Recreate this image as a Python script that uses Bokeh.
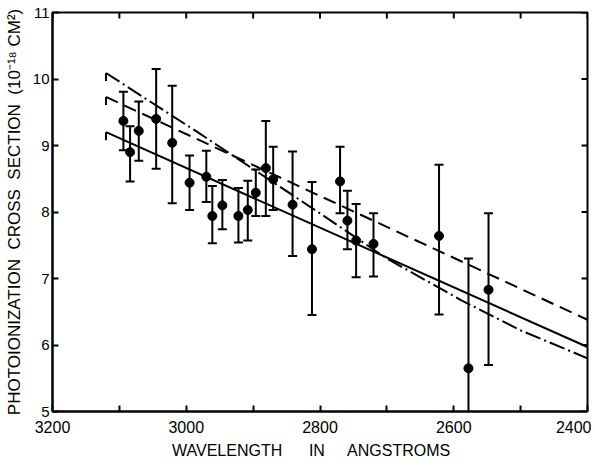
from bokeh.plotting import figure
from bokeh.models import Range1d, FixedTicker, ColumnDataSource
from bokeh.embed import file_html
from bokeh.resources import INLINE

# ---- data ----
wavelength = [3094, 3084, 3071, 3045, 3021, 2995, 2970, 2961, 2946, 2922, 2908, 2896,
              2881, 2870, 2841, 2812, 2770, 2759, 2746, 2720, 2622, 2578, 2548]
sigma = [9.37, 8.90, 9.22, 9.40, 9.04, 8.44, 8.53, 7.94, 8.10, 7.94, 8.03, 8.29,
         8.66, 8.49, 8.11, 7.44, 8.46, 7.87, 7.57, 7.52, 7.64, 5.65, 6.83]
sigma_upper = [9.81, 9.29, 9.66, 10.15, 9.90, 8.85, 8.92, 8.39, 8.48, 8.36, 8.47, 8.64,
               9.37, 8.98, 8.91, 8.45, 8.98, 8.32, 8.12, 7.98, 8.71, 7.30, 7.98]
sigma_lower = [8.93, 8.46, 8.77, 8.65, 8.13, 8.03, 8.15, 7.53, 7.74, 7.54, 7.57, 7.94,
               7.94, 8.03, 7.34, 6.45, 7.98, 7.44, 7.02, 7.03, 6.46, 4.00, 5.70]

solid_wl = [3120, 2400]
solid_val = [9.20, 5.97]
dashed_wl = [3120, 2400]
dashed_val = [9.73, 6.38]
dashdot_wl = [3120, 2983, 2800, 2700, 2590, 2500, 2400]
dashdot_val = [10.09, 9.20, 7.98, 7.30, 6.68, 6.22, 5.80]

x_major = [3200, 3000, 2800, 2600, 2400]
x_minor = [3100, 2900, 2700, 2500]
y_major = [5, 6, 7, 8, 9, 10, 11]

FONT = "Liberation Sans"
NB = "\u00a0"
X0, X1, Y0, Y1 = 3200, 2400, 5, 11
FRAME_W, FRAME_H, TICK = 535, 399, 6

p = figure(width=591, height=466, x_range=Range1d(X0, X1), y_range=Range1d(Y0, Y1),
           output_backend="svg", toolbar_location=None,
           min_border_left=52, min_border_right=4, min_border_top=12, min_border_bottom=55)
p.grid.visible = False
p.outline_line_color = "black"
p.outline_line_width = 2
p.background_fill_color = "white"
p.border_fill_color = "white"


def style(ax):
    ax.axis_line_color = "black"
    ax.axis_line_width = 2
    ax.major_tick_in = TICK
    ax.major_tick_out = 0
    ax.minor_tick_in = TICK
    ax.minor_tick_out = 0
    ax.major_tick_line_width = 2
    ax.minor_tick_line_width = 2
    ax.major_tick_line_color = "black"
    ax.minor_tick_line_color = "black"
    ax.major_label_text_font = FONT
    ax.major_label_text_color = "black"
    ax.axis_label_text_font = FONT
    ax.axis_label_text_font_style = "normal"
    ax.axis_label_text_color = "black"


xa = p.xaxis[0]
xa.ticker = FixedTicker(ticks=x_major, minor_ticks=x_minor)
style(xa)
xa.major_label_text_font_size = "16px"
xa.major_label_standoff = 9
xa.axis_label = "WAVELENGTH" + NB * 6 + "IN" + NB * 5 + "ANGSTROMS" + NB * 4
xa.axis_label_text_font_size = "16px"
xa.axis_label_standoff = 6

ya = p.yaxis[0]
ya.ticker = FixedTicker(ticks=y_major, minor_ticks=[])
style(ya)
ya.major_label_text_font_size = "15px"
ya.major_label_standoff = 3
ya.axis_label = ("PHOTOIONIZATION" + NB * 2 + "CROSS" + NB * 2 + "SECTION" + NB * 2 +
                 "(10\u207b\u00b9\u2078" + NB + "CM\u00b2)")
ya.axis_label_text_font_size = "17px"
ya.axis_label_standoff = 6

# inward ticks on the top and right edges of the frame (no labels there)
tick_dy = (Y1 - Y0) * TICK / FRAME_H
tick_dx = (X0 - X1) * TICK / FRAME_W
top_x = sorted(x_major + x_minor)
p.segment(x0=top_x, y0=[Y1] * len(top_x), x1=top_x, y1=[Y1 - tick_dy] * len(top_x),
          line_color="black", line_width=2)
p.segment(x0=[X1] * len(y_major), y0=y_major, x1=[X1 + tick_dx] * len(y_major), y1=y_major,
          line_color="black", line_width=2)

# fitted / theoretical curves
p.line(solid_wl, solid_val, line_color="black", line_width=2)
p.line(dashed_wl, dashed_val, line_color="black", line_width=2, line_dash="13 7")
p.line(dashdot_wl, dashdot_val, line_color="black", line_width=2, line_dash="16 4 2 4")
# small hooks at the start of each curve
starts_x = [solid_wl[0], dashed_wl[0], dashdot_wl[0]]
starts_y = [solid_val[0], dashed_val[0], dashdot_val[0]]
p.segment(x0=starts_x, y0=starts_y, x1=starts_x, y1=[v - 0.12 for v in starts_y],
          line_color="black", line_width=2)

src = ColumnDataSource(dict(x=wavelength, y=sigma, up=sigma_upper, lo=sigma_lower))
p.segment(x0="x", y0="lo", x1="x", y1="up", source=src, line_color="black", line_width=2)
p.scatter("x", "up", source=src, marker="dash", size=9, line_color="black", line_width=2)
p.scatter("x", "lo", source=src, marker="dash", size=9, line_color="black", line_width=2)
p.scatter("x", "y", source=src, marker="circle", size=9, fill_color="black", line_color="black")

open("out.html", "w").write(file_html(p, INLINE))
